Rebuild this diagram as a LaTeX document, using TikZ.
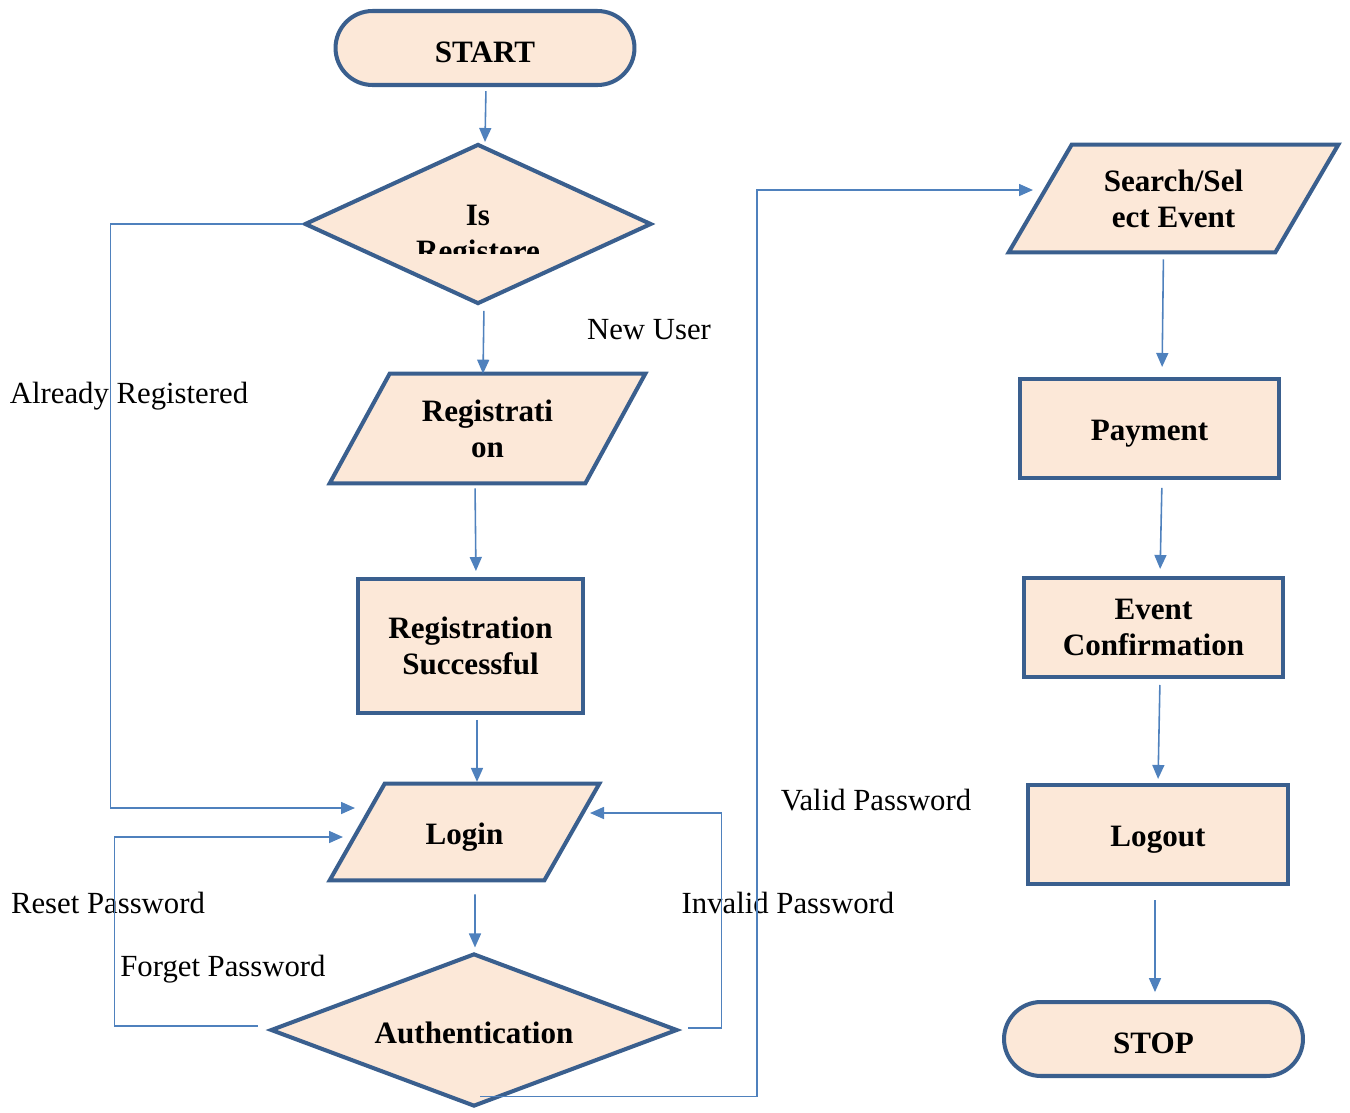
\documentclass[tikz,border=0pt]{standalone}
\usepackage{fontspec}
\setmainfont{Liberation Serif}
\usepackage{xcolor}
\usetikzlibrary{shapes.geometric,arrows.meta,positioning,calc,backgrounds}
\definecolor{boxfill}{HTML}{FCE8D8}
\definecolor{boxline}{HTML}{3A5F8E}
\definecolor{flowblue}{HTML}{4F81BD}
\tikzset{
  boxtext/.style={font=\fontsize{17.7}{20.5}\selectfont\bfseries, align=center, text depth=0pt},
  outline/.style={draw=boxline, fill=boxfill, line width=2.3pt},
  base/.style={boxtext, outline, inner sep=0pt},
  terminal/.style={base, rectangle, rounded corners=0.74cm, minimum width=5.98cm, minimum height=1.48cm, text height=16.5pt},
  decision/.style={base, diamond},
  io/.style={boxtext, rectangle, inner sep=0pt},
  process/.style={base, rectangle},
  oneline/.style={text height=14pt},
  flow/.style={draw=flowblue, line width=0.9pt, -{Triangle[length=0.28cm,width=0.24cm]}},
  lbl/.style={font=\fontsize{17.5}{20.5}\selectfont, inner sep=0pt},
}
% parallelogram behind an io node: name, slant
\newcommand{\ioframe}[2]{%
  \begin{scope}[on background layer]
    \path[outline] ($(#1.north west)+(#2,0)$) -- (#1.north east) -- ($(#1.south east)+(-#2,0)$) -- (#1.south west) -- cycle;
  \end{scope}}
\begin{document}
\begin{tikzpicture}[x=0.02cm, y=-0.02cm]
    \useasboundingbox (0,0) rectangle (1350,1113);
    % left column
    \node[terminal] (start) at (485,48) {START};
    \node[decision, minimum width=6.94cm, minimum height=3.2cm] (isreg) at (478,224) {};
    \begin{scope}
        \clip (380,190) rectangle (580,253);
        \node[boxtext, inner sep=0pt] (isregtext) at (478,233) {Is\\Registere};
    \end{scope}
    \node[io, minimum width=6.3cm, minimum height=2.18cm] (reg) at (487.5,428.5) {Registrati\\on};
    \ioframe{reg}{60}
    \node[process, minimum width=4.5cm, minimum height=2.68cm] (regok) at (470.5,646) {Registration\\Successful};
    \node[io, oneline, minimum width=5.38cm, minimum height=1.92cm] (login) at (464.5,832) {Login};
    \ioframe{login}{55}
    \node[decision, aspect=2.6, text height=15.5pt, minimum width=8.14cm, minimum height=3.06cm] (auth) at (474,1030) {Authentication};
    % right column
    \node[io, minimum width=6.58cm, minimum height=2.14cm] (search) at (1173.5,198.5) {Search/Sel\\ect Event};
    \ioframe{search}{63}
    \node[process, oneline, minimum width=5.18cm, minimum height=1.98cm] (pay) at (1149.5,428.5) {Payment};
    \node[process, minimum width=5.18cm, minimum height=1.98cm] (confirm) at (1153.5,627.5) {Event\\Confirmation};
    \node[process, oneline, minimum width=5.2cm, minimum height=1.98cm] (logout) at (1158,834.5) {Logout};
    \node[terminal] (stop) at (1153.5,1039) {STOP};

    % labels
    \node[lbl] (newuser) at (649,330) {New User};
    \node[lbl] (already) at (129,396) {Already Registered};
    \node[lbl] (reset) at (108,903) {Reset Password};
    \node[lbl] (forget) at (223,969) {Forget Password};
    \node[lbl] (invalid) at (788,903) {Invalid Password};
    \node[lbl] (valid) at (876,800) {Valid Password};

    % main flow
    \draw[flow, shorten <=2.3pt] ($(start.south)+(1,0)$) -- ($(isreg.north)+(7,0)$);
    \draw[flow, shorten <=2.8pt] ($(isreg.south)+(6,0)$) -- ($(reg.north)+(-4.5,0)$);
    \draw[flow, shorten <=2.8pt, shorten >=3.4pt] ($(reg.south)+(-12.5,0)$) -- ($(regok.north)+(5.5,0)$);
    \draw[flow, shorten <=2.8pt, shorten >=1pt] ($(regok.south)+(6.5,0)$) -- ($(login.north)+(12.5,0)$);
    \draw[flow, shorten <=8pt, shorten >=2.3pt] ($(login.south)+(10.5,0)$) -- ($(auth.north)+(1,0)$);
    \draw[flow, shorten <=4pt, shorten >=5.7pt] ($(search.south)+(-10,0)$) -- ($(pay.north)+(12.5,0)$);
    \draw[flow, shorten <=4.5pt, shorten >=4pt] ($(pay.south)+(12.5,0)$) -- ($(confirm.north)+(6.5,0)$);
    \draw[flow, shorten <=3.4pt, shorten >=2.3pt] ($(confirm.south)+(6.5,0)$) -- (logout.north);
    \draw[flow, shorten <=8pt, shorten >=4.5pt] ($(logout.south)+(-3,0)$) -- ($(stop.north)+(1.5,0)$);

    % loops
    \draw[flow] (isreg.west) -- ++(-192,0) |- ($(login.center)+(-109.5,-24)$);
    \draw[flow] ($(auth.west)+(-11,-4)$) -- ++(-143,0) |- ($(login.center)+(-121.5,5)$);
    \draw[flow] ($(auth.east)+(9,-2)$) -- ++(33,0) |- ($(login.center)+(125.5,-19)$);
    \draw[flow] ($(auth.south)+(6,-12)$) -- ++(277,0) |- ($(search.center)+(-140.5,-8.5)$);
\end{tikzpicture}
\end{document}
